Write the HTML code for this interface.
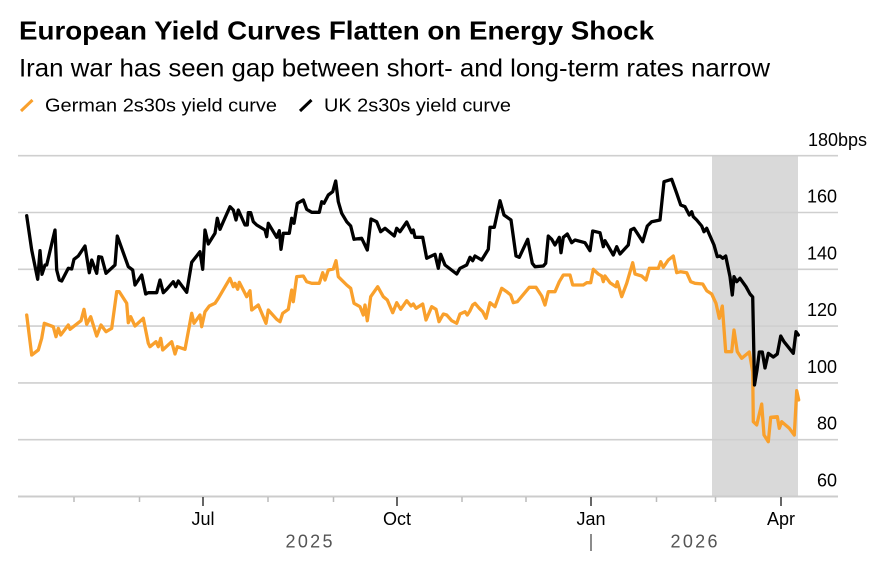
<!DOCTYPE html>
<html><head><meta charset="utf-8"><style>
html,body{margin:0;padding:0;background:#fff;}
svg{display:block;font-family:"Liberation Sans",Arial,sans-serif;}
</style></head><body>
<svg width="875" height="574" viewBox="0 0 875 574" xmlns="http://www.w3.org/2000/svg">
<rect width="875" height="574" fill="#fff"/>
<text x="19" y="39.3" font-size="26" font-weight="bold" fill="#000" textLength="635" lengthAdjust="spacingAndGlyphs">European Yield Curves Flatten on Energy Shock</text>
<text x="19" y="76.7" font-size="25" fill="#000" textLength="751" lengthAdjust="spacingAndGlyphs">Iran war has seen gap between short- and long-term rates narrow</text>
<line x1="21" y1="111" x2="32.5" y2="100" stroke="#f9a02c" stroke-width="3"/>
<text x="45" y="111.7" font-size="18" fill="#000" textLength="232" lengthAdjust="spacingAndGlyphs">German 2s30s yield curve</text>
<line x1="300" y1="111" x2="311.5" y2="100" stroke="#000" stroke-width="3"/>
<text x="324" y="111.7" font-size="18" fill="#000" textLength="187" lengthAdjust="spacingAndGlyphs">UK 2s30s yield curve</text>

<rect x="712" y="155.7" width="86" height="341" fill="#d9d9d9"/>
<g stroke="#cfcfcf" stroke-width="1.6">
<line x1="18" y1="155.7" x2="838" y2="155.7"/>
<line x1="18" y1="212.5" x2="838" y2="212.5"/>
<line x1="18" y1="269.3" x2="838" y2="269.3"/>
<line x1="18" y1="326.1" x2="838" y2="326.1"/>
<line x1="18" y1="382.9" x2="838" y2="382.9"/>
<line x1="18" y1="439.7" x2="838" y2="439.7"/>
</g>
<line x1="18" y1="496.5" x2="838" y2="496.5" stroke="#cccccc" stroke-width="2"/>

<g font-size="18" fill="#000" text-anchor="end">
<text x="837" y="202.5">160</text>
<text x="837" y="259.3">140</text>
<text x="837" y="316.1">120</text>
<text x="837" y="372.9">100</text>
<text x="837" y="429.7">80</text>
<text x="837" y="486.5">60</text>
</g>
<text x="808" y="146" font-size="18" fill="#000">180bps</text>

<g stroke="#bbbbbb" stroke-width="1.5">
<line x1="74" y1="497" x2="74" y2="502"/>
<line x1="139.5" y1="497" x2="139.5" y2="502"/>
<line x1="268" y1="497" x2="268" y2="502"/>
<line x1="333.5" y1="497" x2="333.5" y2="502"/>
<line x1="462" y1="497" x2="462" y2="502"/>
<line x1="526" y1="497" x2="526" y2="502"/>
<line x1="656.5" y1="497" x2="656.5" y2="502"/>
<line x1="715.5" y1="497" x2="715.5" y2="502"/>
</g>
<g stroke="#333" stroke-width="1.5">
<line x1="203" y1="497" x2="203" y2="506"/>
<line x1="397" y1="497" x2="397" y2="506"/>
<line x1="591" y1="497" x2="591" y2="506"/>
<line x1="781" y1="497" x2="781" y2="506"/>
</g>
<g font-size="18" fill="#000" text-anchor="middle">
<text x="203" y="525">Jul</text>
<text x="397" y="525">Oct</text>
<text x="591" y="525">Jan</text>
<text x="781" y="525">Apr</text>
</g>
<g font-size="18" fill="#555">
<text x="285.5" y="547.7" textLength="47" lengthAdjust="spacing">2025</text>
<text x="670.5" y="547.7" textLength="47" lengthAdjust="spacing">2026</text>
</g>
<line x1="591" y1="534" x2="591" y2="551" stroke="#666" stroke-width="1.5"/>

<polyline fill="none" stroke="#f9a02c" stroke-width="3.3" stroke-linejoin="round" stroke-linecap="round" points="26.7,315 31.7,355 38.3,350 41.7,338.3 44.3,323.3 53.3,326.7 56,336.7 58.3,328.3 60.7,335 68.3,325 70,329.3 81,320.7 84,309.3 86.7,324.3 90.7,316.7 96.7,336 101,325 106,331.7 111.7,328.3 116.7,291.7 119.3,291.7 126.7,303.3 128.3,322.7 130.7,316.7 135,326 143.3,318.3 148.3,343.3 150,346.7 156,341.7 158.3,346.7 160.7,338.3 162.7,350 171.7,341.7 175,354 177.3,346.7 185,349.3 191.7,313.3 194,323.3 200,315 201.7,326.7 205,311.7 209.3,306 215,303.3 218.3,298.3 230,278.3 233.3,286.7 235,283.3 237.7,289.3 239.3,282.3 246.7,296.7 250,290.7 251.7,310 258.3,305 266,323.3 268.3,310 276.7,319.3 280,321.7 282.7,313.3 288.3,309.3 291.7,290 293.3,301.7 296.7,276.7 303.3,276 306.7,281.7 311.7,283.3 319.3,283.3 322.7,272.7 325,280 328.3,270 333.3,269 336,260.7 338.3,276.7 346.7,285 350.7,288.3 354,303.3 360,306.7 363.3,315 365,305 367.3,320.7 370.7,296.7 377.7,286.7 383.3,296.7 387.3,300 392.7,312.7 396.7,302.7 400.7,309.3 406.7,300.7 411,306 413.3,304 416,308.3 422.7,304 426,320 431.7,306.7 436,309.3 439,321.7 443.3,314 446.7,315 451.7,320.7 456.7,323.3 460,314 465,311.7 467.3,315 470,310.7 472.7,305 475,303.3 479.3,308.3 482.7,311.7 486,318.3 490,302.7 495,306.7 501.7,288.3 506.7,291.7 510.7,295 513.3,302.7 517.3,301.7 529.3,287.3 536,287.3 541.7,296 545,305 548.3,291.7 555,291.7 559.3,281.7 563.3,275 570,275 572.7,285 583.3,285 586.7,282.7 590.7,282.7 593.3,269.3 598.3,274 601.7,276 603.3,281.7 605,276 610,282.7 616,286.7 617.3,281.7 621.7,296.7 626.7,283.3 632.7,262.7 635,274 641.7,276 646,280 649.3,268.3 658.3,268.3 660.7,261.7 663.3,267.3 668.3,260 673.3,256 676.7,272.7 680.7,271.7 686.7,272.7 690.7,281.7 695,283.3 702.7,284 706.7,290.7 711.7,294 716,303.3 719.3,318.3 722.3,306 725.7,351.7 731.7,351.7 734,330 737.3,351.7 741.7,358.3 749.3,352 752.7,372 753.3,421.7 756.7,425 761.7,404 764,435 768.3,441.7 770.7,417.3 777.3,416.7 779.3,428.3 781.7,421.7 789.3,428.3 794.3,435 796.7,390.7 798.7,400"/>

<polyline fill="none" stroke="#000" stroke-width="3.3" stroke-linejoin="round" stroke-linecap="round" points="26.7,215.7 31.7,250 37.7,279.3 40,250.7 42,274.3 45,265 46.7,265 55,230 56.7,270 59.3,280 61.7,281 68.3,268.3 71.7,269 74,259.3 78.3,256 85,246 89.3,272.7 91.7,260 96.7,273.3 98.7,256.7 101.7,257.3 106,273.3 115,265 117.3,236 128.3,266.7 132.7,270 135,285 141.7,275 145.7,294 148.3,292.7 156.7,292.7 160,280 163.3,292.7 166.7,289.3 173.3,281.7 175.7,286.7 178.3,281 186.7,292.3 191.7,262.3 200,251.7 202.7,269.3 205,230 208.3,244 215,233.3 217.3,218.3 220,229.3 223.3,221.7 230,206.7 233.3,210 236,220 238.3,210 245,225 247.3,225 248.3,212.7 250.7,212.7 253.3,221.7 256.7,225 265,230 266.7,236.7 268.3,223.3 276.7,237.3 279.3,230.7 281,249.3 283.3,233.3 289.3,233.3 291.7,218.3 294,223.3 297.3,203.3 303.3,200 306.7,209.3 311.7,212.3 319.3,212.3 321.7,201.7 324,203.3 328.3,195 332.7,191.7 335.7,181 338.3,201.7 341.7,213.3 346.7,221.7 350.7,226 354,239.3 361.7,238.3 367.3,250 371,219 376.7,221.7 380.7,231.7 385,228.3 394.3,236 396.7,228.3 400,231.7 406.7,222 411.7,232.7 413.3,230 415,237.3 422.7,237.3 426.7,258.3 435,254.3 438.3,268.3 440.7,254.3 445,265 456.7,274 460,268.3 466.7,265 470,257.3 472.7,260.7 475,256 481.7,260 488.3,249.3 490,227.3 494.3,227.3 500,200.7 504,215 511,220 516,256 519.3,257.3 527.7,239.3 532.3,263.3 535,266.7 543.3,266 545.7,263.3 548.3,236 551.7,239.3 555,245 559.3,237.3 561,252.7 563.3,237.3 567.3,234 571.7,242.7 575,240 585,242.7 590,250.7 592.7,231 600,232.7 603.3,246.7 605,240.7 613.3,255 616.7,246.7 620,254 628.3,245 630.7,230 634,228.3 637.3,233.3 642.7,241.7 647.3,226 651.7,221.7 660,220 664,181.7 671.7,179.3 676.7,193.3 680.7,205 685,206.7 689.3,215 691.7,211.7 693.3,216.7 696.7,220 701.7,226 704,231.7 706.7,228.3 714,245 717.3,256.7 720,256 722.7,258.3 725.7,256 730,276.7 732.3,295 734,276.7 736.7,281.7 740,278.3 746,286.7 750,294 752.7,297 754.5,385 757,370 759.3,352 762.3,352 765,368 768.3,353.3 773.3,357 777.3,354 780.7,336 784,341.7 793.3,353.3 796,331.7 798.3,335"/>
</svg>
</body></html>
